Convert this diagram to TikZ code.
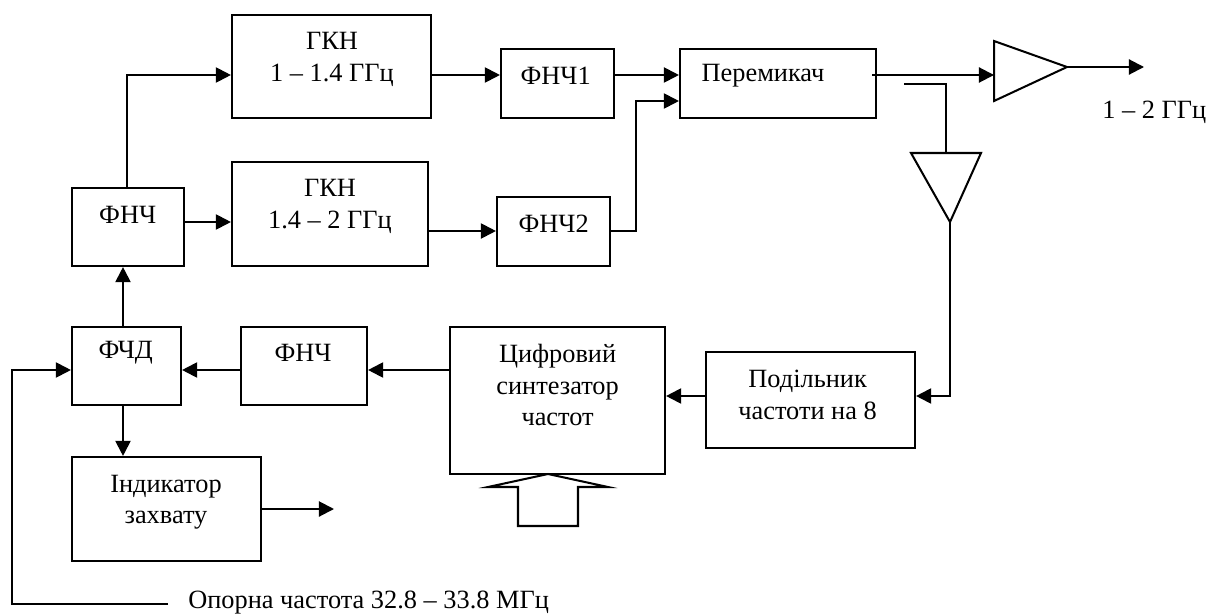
\documentclass[tikz,border=0pt]{standalone}
\usepackage{fontspec}
\setmainfont{Liberation Serif}
\usetikzlibrary{arrows.meta}
\def\px{0.02cm}
\tikzset{
    blok/.style={draw, line width=1.2pt, minimum width=#1, inner sep=0pt},
    txt/.style={align=center, font=\fontsize{15pt}{17.8pt}\selectfont, inner sep=0pt},
    lin/.style={line width=1.15pt},
    pil/.style={lin, -{Triangle[length=8.6pt, width=8.6pt]}}
}
\begin{document}
\begin{tikzpicture}[x=\px, y=-\px]
    \useasboundingbox (0,0) rectangle (1206,615);

    % Верхній ряд
    \node[blok=199*\px, minimum height=103*\px] (gkn1) at (331.5,66.5) {};
    \node[txt] (gkn1t) at (332,59.5) {ГКН\\1 – 1.4 ГГц};
    \node[blok=113*\px, minimum height=69*\px] (fnch1) at (557.5,83.5) {};
    \node[txt] (fnch1t) at (555.6,76) {ФНЧ1};
    \node[blok=196*\px, minimum height=69*\px] (perem) at (778,83.5) {};
    \node[txt] (peremt) at (763,76) {Перемикач};

    % Другий ряд
    \node[blok=112*\px, minimum height=78*\px] (fnch0) at (128,227) {};
    \node[txt] (fnch0t) at (127.7,215) {ФНЧ};
    \node[blok=196*\px, minimum height=104*\px] (gkn2) at (330,214) {};
    \node[txt] (gkn2t) at (330,206.5) {ГКН\\1.4 – 2 ГГц};
    \node[blok=113*\px, minimum height=69*\px] (fnch2) at (553.5,231.5) {};
    \node[txt] (fnch2t) at (553.6,224) {ФНЧ2};

    % Нижній ряд
    \node[blok=109*\px, minimum height=78*\px] (fchd) at (126.5,366) {};
    \node[txt] (fchdt) at (125.7,353) {ФЧД};
    \node[blok=126*\px, minimum height=78*\px] (fnch3) at (304,366) {};
    \node[txt] (fnch3t) at (303,353) {ФНЧ};
    \node[blok=215*\px, minimum height=147*\px] (synt) at (557.5,400.5) {};
    \node[txt] (syntt) at (557.6,385) {Цифровий\\синтезатор\\частот};
    \node[blok=209*\px, minimum height=96*\px] (dil) at (810.5,400) {};
    \node[txt] (dilt) at (807.6,395) {Подільник\\частоти на 8};
    \node[blok=189*\px, minimum height=104*\px] (ind) at (166.5,509) {};
    \node[txt] (indt) at (166,502) {Індикатор\\захвату};

    % Підсилювачі
    \draw[lin] (994,41) -- (1067,67) -- (994,101) -- cycle;
    \coordinate (ampin) at (994,75);
    \coordinate (ampout) at (1067,67);
    \draw[lin] (911,153) -- (981,153) -- (950,222) -- cycle;
    \coordinate (amp2in) at (946,153);
    \coordinate (amp2out) at (950,222);

    % Вільні кінці
    \coordinate (vyh) at (1144,67);
    \coordinate (vidvid) at (904,84);
    \coordinate (zah) at (334,509);
    \coordinate (opor) at (168,604);

    % Зв'язки
    \draw[pil] (fnch0.north -| 127,0) -- (127,75) -- (gkn1.west |- 0,75);
    \draw[pil] (fnch0.east |- 0,222) -- (gkn2.west |- 0,222);
    \draw[pil] (gkn1.east |- 0,75) -- (fnch1.west |- 0,75);
    \draw[pil] (gkn2.east |- 0,231) -- (fnch2.west |- 0,231);
    \draw[pil] (fnch1.east |- 0,75) -- (perem.west |- 0,75);
    \draw[pil] (fnch2.east |- 0,231) -- (636,231) -- (636,101) -- (perem.west |- 0,101);
    \draw[pil] (872,75) -- (ampin);
    \draw[pil] (ampout) -- (vyh);
    \draw[lin] (vidvid) -- (946,84) -- (amp2in);
    \draw[pil] (amp2out) |- (dil.east |- 0,396);
    \draw[pil] (dil.west |- 0,396) -- (synt.east |- 0,396);
    \draw[pil] (synt.west |- 0,370) -- (fnch3.east |- 0,370);
    \draw[pil] (fnch3.west |- 0,370) -- (fchd.east |- 0,370);
    \draw[pil] (fchd.north -| 123,0) -- (fnch0.south -| 123,0);
    \draw[pil] (fchd.south -| 123,0) -- (ind.north -| 123,0);
    \draw[pil] (ind.east |- zah) -- (zah);
    \draw[pil] (opor) -- (12,604) -- (12,370) -- (fchd.west |- 0,370);

    % Шинна стрілка
    \draw[lin] (548,474) -- (608,487) -- (578,487) -- (578,526) -- (518,526) -- (518,487) -- (488,487) -- cycle;

    % Написи
    \node[txt, anchor=west] (vyht) at (1102,112) {1 – 2 ГГц};
    \node[txt, anchor=base west] (oport) at (188,608) {Опорна частота 32.8 – 33.8 МГц};
\end{tikzpicture}
\end{document}
